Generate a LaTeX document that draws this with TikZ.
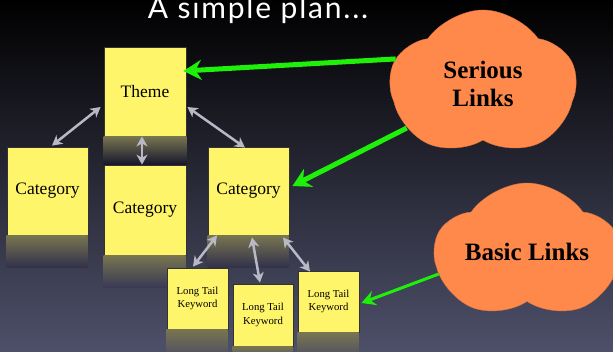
\documentclass[tikz,border=0pt]{standalone}
\usepackage{fontspec}
\setmainfont{Liberation Serif}
\newfontfamily\titlefont[LetterSpace=6]{Lato}
\usetikzlibrary{arrows.meta, shapes.symbols}

\definecolor{boxyellow}{RGB}{255,245,106}
\definecolor{cloudorange}{RGB}{255,137,74}
\definecolor{linkgreen}{RGB}{30,240,10}
\definecolor{arrowgray}{RGB}{184,184,198}
\definecolor{bgmid}{RGB}{20,20,44}
\definecolor{bgbottom}{RGB}{78,80,106}
\definecolor{refltop}{RGB}{120,117,80}

\tikzset{
    box/.style={draw=black!80, fill=boxyellow, line width=0.8pt, inner sep=2pt,
        align=center, font=\fontsize{17.5}{20}\selectfont},
    smallbox/.style={box, font=\fontsize{10.7}{13.5}\selectfont},
    reflection/.style 2 args={top color=refltop, bottom color={rgb,255:red,#1;green,#1;blue,#2}},
    twoway/.style={{Stealth[length=10pt,width=11pt,inset=3pt]}-{Stealth[length=10pt,width=11pt,inset=3pt]},
        arrowgray, line width=2.5pt},
    link/.style={-{Stealth[length=18pt,width=20pt,inset=6pt]}, linkgreen, line width=5pt},
    puff/.style={cloud, cloud puffs=5, cloud puff arc=110, cloud ignores aspect,
        fill=cloudorange, draw=cloudorange!85!black, inner sep=0pt, align=center,
        font=\bfseries\fontsize{25}{28}\selectfont}
}

\begin{document}
\begin{tikzpicture}[x=1pt, y=-1pt]
        \useasboundingbox (0, 0) rectangle (613, 352);
        \shade[top color=black, middle color=bgmid, bottom color=bgbottom] (0, 0) rectangle (613, 352);
        \node[font=\titlefont\fontsize{30}{32}\selectfont, text=white, anchor=base] (title) at (258, 19) {A simple plan...};

        % the plan
        \node[box, minimum width=82pt, minimum height=89pt] (theme) at (145, 91.5) {Theme};
        \node[box, minimum width=81pt, minimum height=88pt] (catL) at (47.5, 191) {Category};
        \node[box, minimum width=82pt, minimum height=90pt] (catM) at (145, 210) {Category};
        \node[box, minimum width=81pt, minimum height=88pt] (catR) at (248.5, 191) {Category};
        \shade[reflection={22}{44}] (theme.south west) rectangle (catM.north east);
        \shade[reflection={49}{75}] (catL.south west) rectangle ++(81, 32);
        \shade[reflection={57}{84}] (catM.south west) rectangle ++(82, 32);
        \shade[reflection={49}{75}] (catR.south west) rectangle ++(81, 32);

        \node[smallbox, minimum width=61pt, minimum height=61pt] (lt1) at (197.5, 298.5) {Long Tail\\Keyword};
        \node[smallbox, minimum width=60pt, minimum height=62pt] (lt2) at (263, 315) {Long Tail\\Keyword};
        \node[smallbox, minimum width=61pt, minimum height=61pt] (lt3) at (328.5, 301.5) {Long Tail\\Keyword};
        \shade[reflection={74}{100}] (lt1.south west) rectangle ++(61, 30);
        \shade[reflection={77}{104}] (lt2.south west) rectangle ++(60, 14);
        \shade[reflection={74}{100}] (lt3.south west) rectangle ++(61, 28);

        \draw[twoway] ([xshift=-3pt, yshift=-15.5pt]theme.west) -- ([xshift=4.5pt, yshift=1pt]catL.north);
        \draw[twoway] ([xshift=-3pt]theme.south) -- ([xshift=-3pt]catM.north);
        \draw[twoway] ([xshift=1pt, yshift=-15.5pt]theme.east) -- ([xshift=-3.5pt, yshift=-1pt]catR.north);
        \draw[twoway] ([xshift=-31.5pt]catR.south) -- ([xshift=-4.5pt, yshift=1pt]lt1.north);
        \draw[twoway] ([xshift=3.5pt, yshift=-2pt]catR.south) -- ([xshift=-3pt, yshift=1pt]lt2.north);
        \draw[twoway] ([xshift=34.5pt, yshift=-2pt]catR.south) -- ([xshift=-18.5pt, yshift=-1pt]lt3.north);

        % the links
        \node[puff, minimum width=186pt, minimum height=148pt] (serious) at (483, 84) {Serious\\Links};
        \node[puff, minimum width=184pt, minimum height=138pt] (basic) at (527, 252) {Basic Links};

        \draw[link] (serious.164) -- ([xshift=-3pt, yshift=20.5pt]theme.east);
        \draw[link] (serious.210) -- ([xshift=3pt, yshift=5pt]catR.east);
        \draw[link, line width=3pt, -{Stealth[length=14pt,width=15pt,inset=5pt]}] (basic.194) -- ([xshift=2pt, yshift=-1.5pt]lt3.east);
    \end{tikzpicture}
\end{document}
